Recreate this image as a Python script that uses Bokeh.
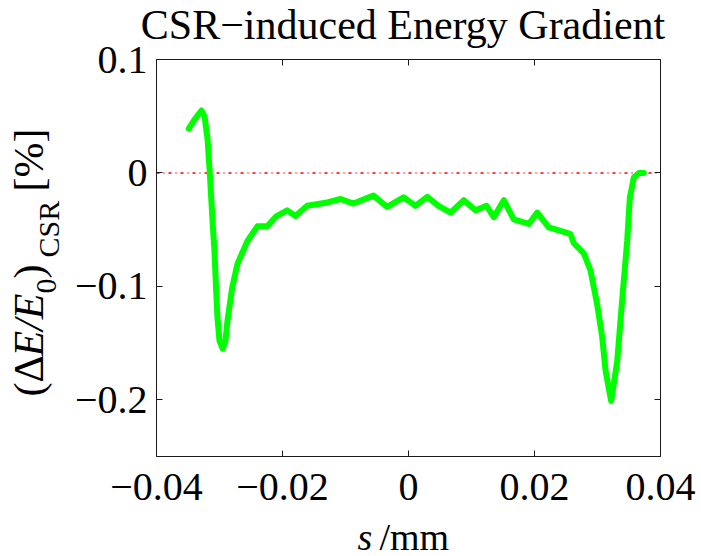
from bokeh.plotting import figure
from bokeh.models import Range1d, LinearAxis, FixedTicker, Label
from bokeh.embed import file_html
from bokeh.resources import INLINE

# ---- data ----
s_mm = [-0.03487, -0.03397, -0.03286, -0.03238, -0.03190, -0.03154, -0.03111, -0.03079,
        -0.03056, -0.03032, -0.03000, -0.02948, -0.02905, -0.02873, -0.02798, -0.02714,
        -0.02556, -0.02397, -0.02243, -0.02095, -0.01925, -0.01794, -0.01608, -0.01290,
        -0.01079, -0.00873, -0.00556, -0.00338, -0.00079, 0.00111, 0.00297, 0.00476,
        0.00667, 0.00878, 0.01063, 0.01238, 0.01354, 0.01513, 0.01671, 0.01910,
        0.02043, 0.02227, 0.02465, 0.02571, 0.02624, 0.02783, 0.02889, 0.02995,
        0.03075, 0.03127, 0.03217, 0.03313, 0.03365, 0.03417, 0.03471, 0.03513,
        0.03576, 0.03656, 0.03735]
dE_pct = [0.039, 0.047, 0.055, 0.050, 0.030, 0.000, -0.042, -0.070,
          -0.100, -0.128, -0.148, -0.155, -0.148, -0.130, -0.101, -0.080,
          -0.060, -0.047, -0.047, -0.038, -0.033, -0.038, -0.029, -0.026,
          -0.023, -0.027, -0.020, -0.030, -0.0215, -0.029, -0.021, -0.029,
          -0.035, -0.024, -0.033, -0.029, -0.039, -0.024, -0.041, -0.045,
          -0.035, -0.048, -0.052, -0.054, -0.062, -0.071, -0.086, -0.116,
          -0.145, -0.174, -0.201, -0.166, -0.130, -0.095, -0.060, -0.022,
          -0.004, 0.000, 0.000]
zero_level = 0.0

x_ticks = [-0.04, -0.02, 0, 0.02, 0.04]
x_tick_labels = ["\u22120.04", "\u22120.02", "0", "0.02", "0.04"]
y_ticks = [-0.2, -0.1, 0, 0.1]
y_tick_labels = ["\u22120.2", "\u22120.1", "0", "0.1"]

title_text = "CSR\u2212induced Energy Gradient"

FONT = "Liberation Serif"

# ---- geometry: axes box inside the 701x556 canvas ----
W, H = 701, 556
BOX_L, BOX_R, BOX_T, BOX_B = 156, 660, 59, 456
X0, X1 = -0.04, 0.04
Y0, Y1 = -0.25, 0.1


def px2x(px):
    return X0 + (px - BOX_L) / (BOX_R - BOX_L) * (X1 - X0)


def py2y(py):
    return Y1 - (py - BOX_T) / (BOX_B - BOX_T) * (Y1 - Y0)


p = figure(width=W, height=H, output_backend="svg", toolbar_location=None,
           x_range=Range1d(px2x(0), px2x(W)), y_range=Range1d(py2y(H), py2y(0)),
           min_border=0, min_border_left=0, min_border_right=0,
           min_border_top=0, min_border_bottom=0,
           x_axis_location=None, y_axis_location=None)
p.grid.visible = False
p.outline_line_color = None
p.background_fill_color = "white"
p.border_fill_color = "white"

EDGE = "#1a1a1a"


def make_axis(ticks, labels, show, loc, bounds):
    if show:
        ov = {t: l for t, l in zip(ticks, labels)}
    else:
        ov = {t: "" for t in ticks}
    ax = LinearAxis(ticker=FixedTicker(ticks=ticks), major_label_overrides=ov,
                    fixed_location=loc, bounds=bounds)
    ax.axis_line_color = EDGE
    ax.axis_line_width = 1
    ax.major_tick_in = 6
    ax.major_tick_out = 0
    ax.major_tick_line_color = EDGE
    ax.major_tick_line_width = 1
    ax.minor_tick_line_color = None
    ax.major_label_text_font = FONT
    ax.major_label_text_color = "black"
    if show:
        ax.major_label_text_font_size = "40px"
    else:
        ax.major_label_text_font_size = "1px"
        ax.major_label_standoff = 0
    return ax


xb = make_axis(x_ticks, x_tick_labels, True, Y0, (X0, X1))
xb.major_label_standoff = 17
p.add_layout(xb, "below")
p.add_layout(make_axis(x_ticks, x_tick_labels, False, Y1, (X0, X1)), "above")
yl = make_axis(y_ticks, y_tick_labels, True, X0, (Y0, Y1))
yl.major_label_standoff = 9
p.add_layout(yl, "left")
p.add_layout(make_axis(y_ticks, y_tick_labels, False, X1, (Y0, Y1)), "right")

# zero reference line across the axes box
p.segment(x0=[X0], x1=[X1], y0=[zero_level], y1=[zero_level], line_color="red",
          line_width=1.5, line_dash="3 4 1 4")

p.line(s_mm, dE_pct, line_color="#00ff00", line_width=6, line_join="round", line_cap="round")


def add_text(txt, bx, by, size, style="normal", align="left", angle=0):
    p.add_layout(Label(x=px2x(bx), y=py2y(by), text=txt, text_align=align,
                       text_baseline="alphabetic", text_font=FONT, text_font_size=size,
                       text_font_style=style, text_color="black",
                       angle=angle, angle_units="deg"))


# title
add_text(title_text, 402.5, 24, "42px", align="center")

# y label pieces, rotated
ylab_pieces = [("(\u0394", 28, 396, "42px", "normal"),
               ("E/E", 28, 356, "42px", "italic"),
               ("0", 46, 293, "30px", "normal"),
               (")", 28, 278, "42px", "normal"),
               ("CSR", 48, 257, "30px", "normal"),
               ("[%]", 28, 191, "42px", "normal")]
for txt, bx, by, fs, st in ylab_pieces:
    add_text(txt, bx, by, fs, style=st, angle=90)

# x label
add_text("s", 357, 536, "38px", style="italic")
add_text("/mm", 379, 536, "38px")

open("out.html", "w").write(file_html(p, INLINE))
